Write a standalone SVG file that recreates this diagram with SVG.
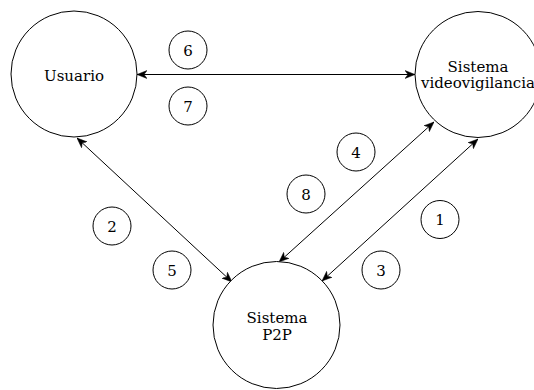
<svg xmlns="http://www.w3.org/2000/svg" width="534" height="390" viewBox="0 0 534 390">
  <style>
    .node { fill: #ffffff; stroke: #000000; stroke-width: 1; }
    .tag { fill: #ffffff; stroke: #000000; stroke-width: 1; }
    .label { font-family: "DejaVu Serif", "Liberation Serif", serif; font-size: 15px; fill: #000000; text-anchor: middle; }
    .edge { fill: none; stroke: #000000; stroke-width: 1; marker-start: url(#arrow); marker-end: url(#arrow); }
  </style>
  <defs>
    <marker id="arrow" viewBox="0 0 10 10" refX="10" refY="5" markerWidth="10" markerHeight="10" markerUnits="userSpaceOnUse" orient="auto-start-reverse">
      <path d="M0,1 L10,5 L0,9 L3,5 z" fill="#000000" stroke="#000000" stroke-width="0.5"/>
    </marker>
  </defs>
  <rect width="534" height="390" fill="#ffffff"/>

  <!-- connectors -->
  <g id="connectors">
    <line class="edge" x1="137" y1="74.5" x2="415" y2="74.5"/>
    <line class="edge" x1="77" y1="138" x2="232" y2="282"/>
    <line class="edge" x1="279" y1="262" x2="434" y2="122"/>
    <line class="edge" x1="322" y1="281" x2="478" y2="139"/>
  </g>

  <!-- main nodes -->
  <g id="usuario">
    <circle class="node" cx="74" cy="74" r="63"/>
    <text class="label" x="74" y="81">Usuario</text>
  </g>
  <g id="sistema-videovigilancia">
    <circle class="node" cx="478" cy="74.5" r="63"/>
    <text class="label" x="478" y="71.5">Sistema</text>
    <text class="label" x="478" y="88">videovigilancia</text>
  </g>
  <g id="sistema-p2p">
    <circle class="node" cx="276.5" cy="325" r="63.5"/>
    <text class="label" x="277" y="322.5">Sistema</text>
    <text class="label" x="277" y="339.5">P2P</text>
  </g>

  <!-- step numbers -->
  <g id="step-1"><circle class="tag" cx="440" cy="219.5" r="19"/><text class="label" x="440" y="225">1</text></g>
  <g id="step-2"><circle class="tag" cx="112" cy="226" r="19"/><text class="label" x="112" y="231.5">2</text></g>
  <g id="step-3"><circle class="tag" cx="381" cy="270" r="19"/><text class="label" x="381" y="275.5">3</text></g>
  <g id="step-4"><circle class="tag" cx="356" cy="152" r="19"/><text class="label" x="356" y="157.5">4</text></g>
  <g id="step-5"><circle class="tag" cx="172" cy="270" r="19"/><text class="label" x="172" y="275.5">5</text></g>
  <g id="step-6"><circle class="tag" cx="188" cy="50" r="19"/><text class="label" x="188" y="55.5">6</text></g>
  <g id="step-7"><circle class="tag" cx="188" cy="106" r="19"/><text class="label" x="188" y="111.5">7</text></g>
  <g id="step-8"><circle class="tag" cx="306" cy="194" r="19"/><text class="label" x="306" y="199.5">8</text></g>
</svg>
